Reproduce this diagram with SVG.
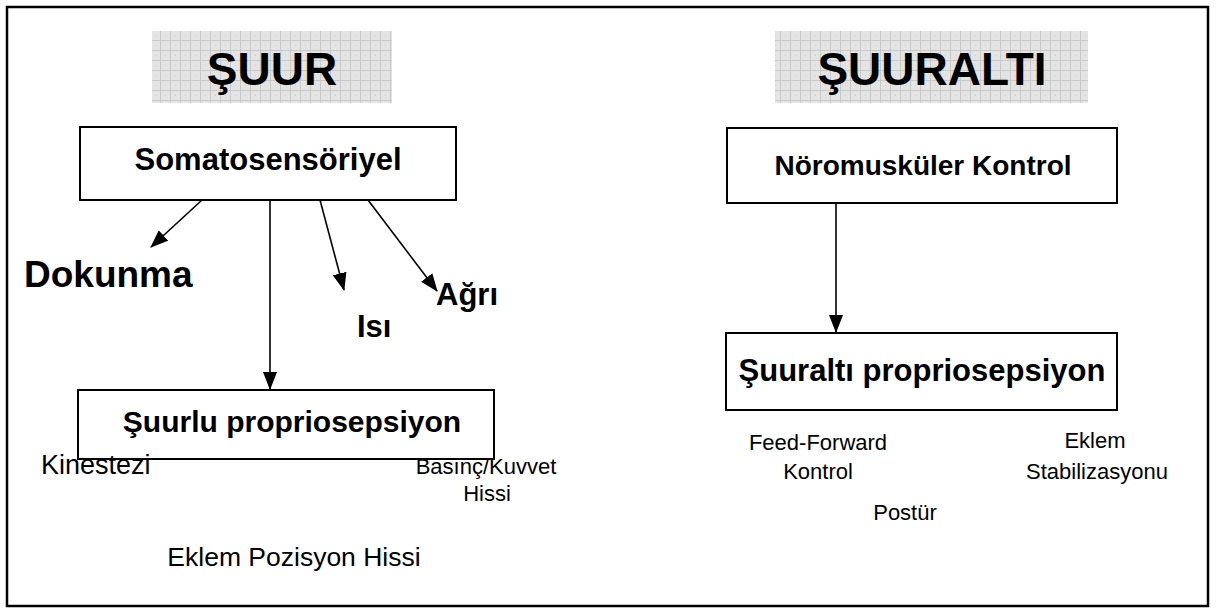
<svg xmlns="http://www.w3.org/2000/svg" width="1216" height="610" viewBox="0 0 1216 610">
<style>
.box{fill:#fff;stroke:#000;stroke-width:2}
.t{font-family:"Liberation Sans",Arial,sans-serif;fill:#000}
.b{font-weight:bold;font-size:31px}
.r{font-size:22px}
.h{font-weight:bold;font-size:46px}
.c{stroke:#000;stroke-width:1.6;fill:none}
</style>
<defs>
<pattern id="grid" width="10" height="10" patternUnits="userSpaceOnUse">
<rect width="10" height="10" fill="#e4e4e4"/>
<path d="M0 0.5H10M0.5 0V10" stroke="#c9c9c9" stroke-width="1"/>
<rect x="5" y="5" width="1" height="1" fill="#d2d2d2"/>
</pattern>
<marker id="ahl" markerWidth="18" markerHeight="14" refX="17" refY="7" orient="auto" markerUnits="userSpaceOnUse" viewBox="0 0 18 14">
<path d="M0 0L18 7L0 14z" fill="#000"/>
</marker>
</defs>
<rect x="7" y="7" width="1201" height="599" fill="#fff" stroke="#000" stroke-width="2.5"/>
<g id="title-suur">
<rect x="152" y="31" width="240" height="72" fill="url(#grid)"/>
<text class="t h" x="272" y="85" text-anchor="middle">ŞUUR</text>
</g>
<g id="title-suuralti">
<rect x="775" y="31" width="313" height="72" fill="url(#grid)"/>
<text class="t h" x="932" y="85" text-anchor="middle">ŞUURALTI</text>
</g>
<g id="somato">
<rect class="box" x="80" y="127" width="376" height="73"/>
<text class="t b" x="268" y="170" text-anchor="middle">Somatosensöriyel</text>
</g>
<g id="dokunma"><text class="t b" x="24" y="287" style="font-size:37px">Dokunma</text></g>
<g id="isi"><text class="t b" x="357" y="337">Isı</text></g>
<g id="agri"><text class="t b" x="436" y="305">Ağrı</text></g>
<g id="suurlu">
<rect class="box" x="78" y="390" width="416" height="69"/>
<text class="t b" x="292" y="432" text-anchor="middle" style="font-size:30px">Şuurlu propriosepsiyon</text>
</g>
<g id="kinestezi"><text class="t r" x="41" y="474" style="font-size:27px">Kinestezi</text></g>
<g id="basinc"><text class="t r" x="486" y="474" text-anchor="middle">Basınç/Kuvvet</text><text class="t r" x="487" y="501" text-anchor="middle">Hissi</text></g>
<g id="eklem-poz"><text class="t r" x="294" y="566" text-anchor="middle" style="font-size:26.5px">Eklem Pozisyon Hissi</text></g>
<g id="noromuskuler">
<rect class="box" x="727" y="128" width="390" height="75"/>
<text class="t b" x="923" y="175" text-anchor="middle" style="font-size:28px">Nöromusküler Kontrol</text>
</g>
<g id="suuralti">
<rect class="box" x="726" y="333" width="391" height="77"/>
<text class="t b" x="922" y="381" text-anchor="middle">Şuuraltı propriosepsiyon</text>
</g>
<g id="feedforward"><text class="t r" x="818" y="450" text-anchor="middle">Feed-Forward</text><text class="t r" x="818" y="479" text-anchor="middle">Kontrol</text></g>
<g id="eklem-stab"><text class="t r" x="1095" y="448" text-anchor="middle">Eklem</text><text class="t r" x="1097" y="479" text-anchor="middle">Stabilizasyonu</text></g>
<g id="postur"><text class="t r" x="905" y="520" text-anchor="middle">Postür</text></g>
<g id="connectors">
<line class="c" x1="202" y1="200" x2="151" y2="247" marker-end="url(#ahl)"/>
<line class="c" x1="270" y1="200" x2="270" y2="389" marker-end="url(#ahl)"/>
<line class="c" x1="320" y1="200" x2="344" y2="290" marker-end="url(#ahl)"/>
<line class="c" x1="368" y1="200" x2="437" y2="291" marker-end="url(#ahl)"/>
<line class="c" x1="836" y1="203" x2="836" y2="332" marker-end="url(#ahl)"/>
</g>
</svg>
